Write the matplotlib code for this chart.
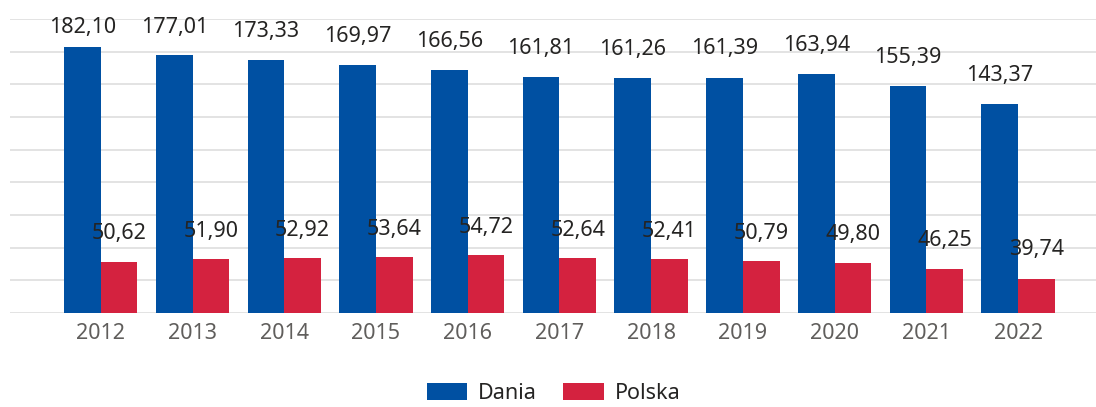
import numpy as np
import matplotlib
matplotlib.use("Agg")
from matplotlib import pyplot as plt

years = ["2012", "2013", "2014", "2015", "2016", "2017", "2018", "2019", "2020", "2021", "2022"]
dania = [182.10, 177.01, 173.33, 169.97, 166.56, 161.81, 161.26, 161.39, 163.94, 155.39, 143.37]
polska = [50.62, 51.90, 52.92, 53.64, 54.72, 52.64, 52.41, 50.79, 49.80, 46.25, 39.74]

BLUE = "#0050A2"
RED = "#D4223F"
TEXT = "#252423"
TICK = "#605E5C"
GRID = "#E1E1E1"

plt.rcParams['font.family'] = ['Noto Sans', 'DejaVu Sans']

fig = plt.figure(figsize=(10.96, 4.07), dpi=100)
ax = fig.add_axes([10 / 1096, 1 - 313 / 407, 1 - 10 / 1096, 294 / 407])

x = np.arange(len(years))
w = 0.40
ymax = 201.5

ax.bar(x - w / 2, dania, w, color=BLUE, label="Dania", zorder=2)

# Polska bars sit on their own (hidden) scale in the original
ax2 = ax.twinx()
ax2.bar(x + w / 2, polska, w, color=RED, label="Polska", zorder=2)
ax2.set_ylim(19.3, 198.1)
ax2.axis("off")

ax.set_ylim(0, ymax)
ax.set_xlim(-0.99, 10.85)
ax.set_yticks(np.linspace(0, ymax, 10))
ax.yaxis.grid(True, color=GRID, linewidth=1.3)
ax.set_axisbelow(True)
ax.tick_params(axis="y", left=False, right=False, labelleft=False, labelright=False)
ax.tick_params(axis="x", length=0, pad=7, labelsize=15.5, labelcolor=TICK)
ax.set_xticks(x)
ax.set_xticklabels(years)
for s in ax.spines.values():
    s.set_visible(False)

# labels
lab_cap = 191.9
for i, v in enumerate(dania):
    ax.text(x[i] - w / 2, min(v + 15.8, lab_cap), "{:.2f}".format(v).replace(".", ","),
            ha="center", va="baseline", fontsize=15.5, color=TEXT, zorder=5)
for i, v in enumerate(polska):
    ax2.text(x[i] + w / 2, v, "{:.2f}".format(v).replace(".", ","), transform=ax.transData,
             ha="center", va="baseline", fontsize=15.5, color=TEXT, zorder=5)

h1, l1 = ax.get_legend_handles_labels()
h2, l2 = ax2.get_legend_handles_labels()
fig.legend(h1 + h2, l1 + l2, loc="lower center", bbox_to_anchor=(0.505, -0.04), ncol=2,
           frameon=False, fontsize=15.5, labelcolor=TEXT, handlelength=1.9, handleheight=0.8,
           handletextpad=0.5, columnspacing=1.2)

fig.savefig("out.png", dpi=100)
